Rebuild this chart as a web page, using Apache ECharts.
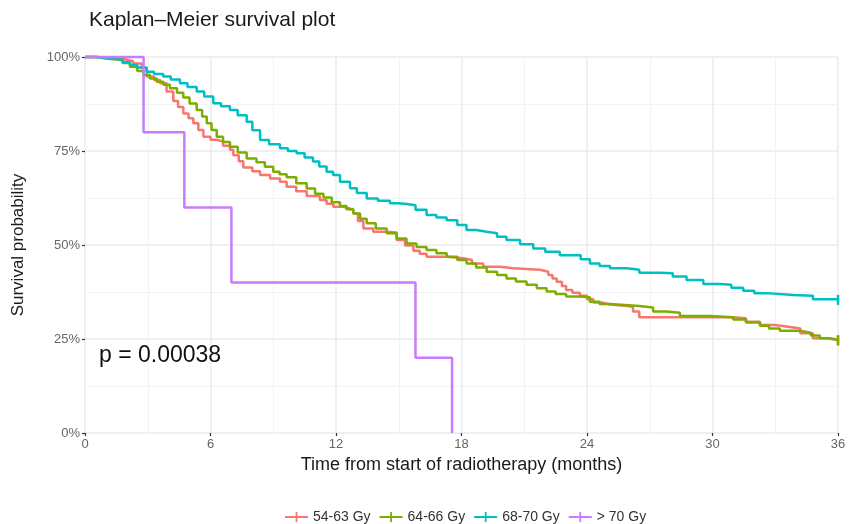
<!DOCTYPE html>
<html>
<head>
<meta charset="utf-8">
<script src="https://cdn.jsdelivr.net/npm/echarts@6/dist/echarts.min.js"></script>
<style>html,body{margin:0;padding:0;background:#fff}#c{width:850px;height:524px}</style>
</head>
<body>
<div id="c"></div>
<script>
const seriesNames = ['54-63 Gy', '64-66 Gy', '68-70 Gy', '> 70 Gy'];
const xTicks = [0, 6, 12, 18, 24, 30, 36];
const yTicks = [0, 25, 50, 75, 100];
const pValueText = 'p = 0.00038';

const gy54_63 = [[0,100],[0.5,99.6],[1.35,99.4],[1.9,98.9],[2.3,98.3],[2.71,97.0],[2.95,94.8],[3.3,93.9],[3.59,93.0],[3.9,90.8],[4.22,88.3],[4.45,86.7],[4.7,85.0],[4.95,83.7],[5.18,82.4],[5.42,80.6],[5.66,78.8],[6.0,78.0],[6.3,77.5],[6.6,76.4],[6.93,75.3],[7.09,73.9],[7.35,72.3],[7.57,70.6],[8.0,69.6],[8.37,68.6],[8.85,67.7],[9.32,66.8],[9.64,65.5],[10.1,64.3],[10.6,63.0],[11.23,62.0],[11.55,61.0],[11.87,60.2],[12.3,59.7],[12.67,59.3],[12.83,58.4],[13.05,56.4],[13.31,54.4],[13.78,53.5],[14.42,53.3],[14.9,51.3],[15.3,49.9],[15.7,48.5],[16.0,47.7],[16.33,46.9],[17.29,46.5],[18.08,46.0],[18.5,45.1],[19.04,44.2],[19.84,43.8],[20.48,43.4],[21.75,42.9],[22.15,42.0],[22.35,41.1],[22.55,40.2],[22.8,39.1],[23.0,38.0],[23.3,37.3],[23.66,36.5],[24.0,35.6],[24.3,34.7],[24.7,34.2],[25.1,33.8],[25.9,33.6],[26.2,32.3],[26.5,30.8],[29.07,30.8],[30.99,30.5],[31.6,29.6],[32.27,28.7],[33.0,28.2],[33.7,27.8],[34.2,26.5],[34.8,25.2],[35.45,24.7],[36,24.7]];
const gy64_66 = [[0,100],[0.5,99.6],[1.0,99.4],[1.35,99.2],[1.8,98.4],[2.15,97.4],[2.5,96.3],[2.79,95.2],[3.1,94.3],[3.43,93.4],[3.75,92.6],[4.06,91.7],[4.4,90.5],[4.7,89.2],[5.0,87.6],[5.34,85.9],[5.6,84.2],[5.82,82.4],[6.05,80.6],[6.3,78.8],[6.6,77.4],[6.93,76.1],[7.3,74.6],[7.73,73.0],[8.2,72.0],[8.6,70.8],[9.0,69.5],[9.3,68.8],[9.64,68.0],[10.1,66.4],[10.6,65.0],[11.0,63.6],[11.4,62.6],[11.8,61.4],[12.19,60.4],[12.5,59.5],[12.83,58.4],[13.15,57.0],[13.47,55.8],[13.9,54.4],[14.42,53.1],[14.9,51.7],[15.37,50.4],[15.85,49.5],[16.33,48.7],[16.8,47.8],[17.29,46.9],[17.8,46.0],[18.24,45.1],[18.7,44.0],[19.2,42.9],[19.7,42.0],[20.15,41.1],[20.6,40.3],[21.11,39.4],[21.6,38.5],[22.07,37.6],[22.5,37.0],[23.0,36.3],[23.6,36.1],[24.14,34.9],[24.6,34.3],[25.1,33.8],[26.5,33.4],[27.16,32.3],[27.8,32.0],[28.44,31.1],[29.88,30.8],[30.99,30.2],[31.6,29.4],[32.27,28.5],[32.7,27.8],[33.22,27.2],[34.18,26.7],[34.7,25.9],[35.13,25.2],[35.6,24.8],[36,24.6]];
const gy68_70 = [[0,100],[0.6,99.8],[1.0,99.6],[1.5,99.2],[1.8,98.6],[2.15,97.9],[2.5,97.2],[2.95,96.1],[3.3,95.5],[3.74,94.8],[4.1,94.0],[4.54,93.0],[4.9,92.0],[5.34,90.8],[5.7,89.5],[6.13,87.7],[6.5,86.9],[6.93,85.9],[7.3,84.5],[7.73,82.8],[8.0,80.5],[8.37,77.9],[8.8,76.8],[9.32,75.7],[9.7,75.0],[10.12,74.4],[10.5,73.3],[10.9,72.2],[11.2,70.9],[11.55,69.5],[11.86,68.6],[12.19,66.8],[12.67,65.1],[13.0,63.8],[13.47,62.4],[14.0,61.8],[14.58,61.1],[15.0,60.9],[15.37,60.6],[15.8,59.4],[16.33,58.0],[16.8,57.3],[17.29,56.6],[17.8,55.3],[18.24,54.0],[18.7,53.5],[19.2,53.1],[19.7,52.2],[20.15,51.3],[20.8,50.2],[21.43,49.1],[22.0,48.2],[22.7,47.3],[23.34,47.3],[23.7,46.2],[24.14,45.1],[24.6,44.4],[25.1,43.8],[25.9,43.4],[26.5,42.6],[27.5,42.5],[28.1,41.6],[28.76,40.7],[29.56,39.6],[30.35,39.4],[30.9,38.6],[31.47,37.8],[32.0,37.2],[32.6,36.7],[33.86,36.5],[34.8,35.6],[36,35.4]];
const gyOver70 = [[0,100],[2.8,80],[4.75,60],[7.0,40],[15.8,20],[17.55,0]];

const colors = ['#F8766D', '#7CAE00', '#00BFC4', '#C77CFF'];
const dataSets = [gy54_63, gy64_66, gy68_70, gyOver70];
const FONT = 'Liberation Sans, Arial, sans-serif';

// censor tick on the final observation of the three long-follow-up curves
function withEndMark(d, i) {
  return d.map((p, k) => (k === d.length - 1 && i < 3)
    ? {value: p, symbol: 'rect', symbolSize: [2.5, 10], itemStyle: {color: colors[i]}}
    : p);
}

const chart = echarts.init(document.getElementById('c'), null, {renderer: 'canvas'});
chart.setOption({
  animation: false,
  backgroundColor: '#ffffff',
  title: {
    text: 'Kaplan\u2013Meier survival plot',
    left: 84, top: 5,
    textStyle: {fontFamily: FONT, fontSize: 21, fontWeight: 'normal', color: '#1a1a1a'}
  },
  legend: {
    data: seriesNames,
    left: 280, top: 505,
    itemWidth: 23, itemHeight: 12, itemGap: 9,
    icon: 'path://M0,5.1h23v1.8h-23z M10.6,1h1.8v10h-1.8z',
    textStyle: {fontFamily: FONT, fontSize: 14, color: '#333'}
  },
  grid: {left: 85, right: 12, top: 57, bottom: 91, containLabel: false},
  xAxis: {
    type: 'value', min: 0, max: 36, interval: 6,
    name: 'Time from start of radiotherapy (months)',
    nameLocation: 'middle', nameGap: 23,
    nameTextStyle: {fontFamily: FONT, fontSize: 18, color: '#1a1a1a'},
    axisLine: {show: false},
    axisTick: {show: true, length: 3, lineStyle: {color: '#333', width: 1.2}},
    axisLabel: {fontFamily: FONT, fontSize: 13, color: '#666', margin: 5,
      formatter: v => xTicks.includes(v) ? String(v) : ''},
    splitLine: {show: true, lineStyle: {color: '#ebebeb', width: 1.5}},
    minorTick: {show: false, splitNumber: 2},
    minorSplitLine: {show: true, lineStyle: {color: '#f3f3f3', width: 1}}
  },
  yAxis: {
    type: 'value', min: 0, max: 100, interval: 25,
    name: 'Survival probability',
    nameLocation: 'middle', nameGap: 58,
    nameTextStyle: {fontFamily: FONT, fontSize: 17, color: '#1a1a1a'},
    axisLine: {show: false},
    axisTick: {show: true, length: 3, lineStyle: {color: '#333', width: 1.2}},
    axisLabel: {fontFamily: FONT, fontSize: 13, color: '#666', margin: 5,
      formatter: v => yTicks.includes(v) ? v + '%' : ''},
    splitLine: {show: true, lineStyle: {color: '#ebebeb', width: 1.5}},
    minorTick: {show: false, splitNumber: 2},
    minorSplitLine: {show: true, lineStyle: {color: '#f3f3f3', width: 1}}
  },
  graphic: [{
    type: 'text', left: 99, top: 344, z: 100,
    style: {text: pValueText, fontFamily: FONT, fontSize: 23, fill: '#111'}
  }],
  series: dataSets.map((d, i) => ({
    name: seriesNames[i],
    type: 'line',
    step: 'end',
    data: withEndMark(d, i),
    showSymbol: true,
    symbol: 'none',
    clip: false,
    color: colors[i],
    lineStyle: {width: 2.5, color: colors[i]},
    z: 2 + i
  }))
});
</script>
</body>
</html>
